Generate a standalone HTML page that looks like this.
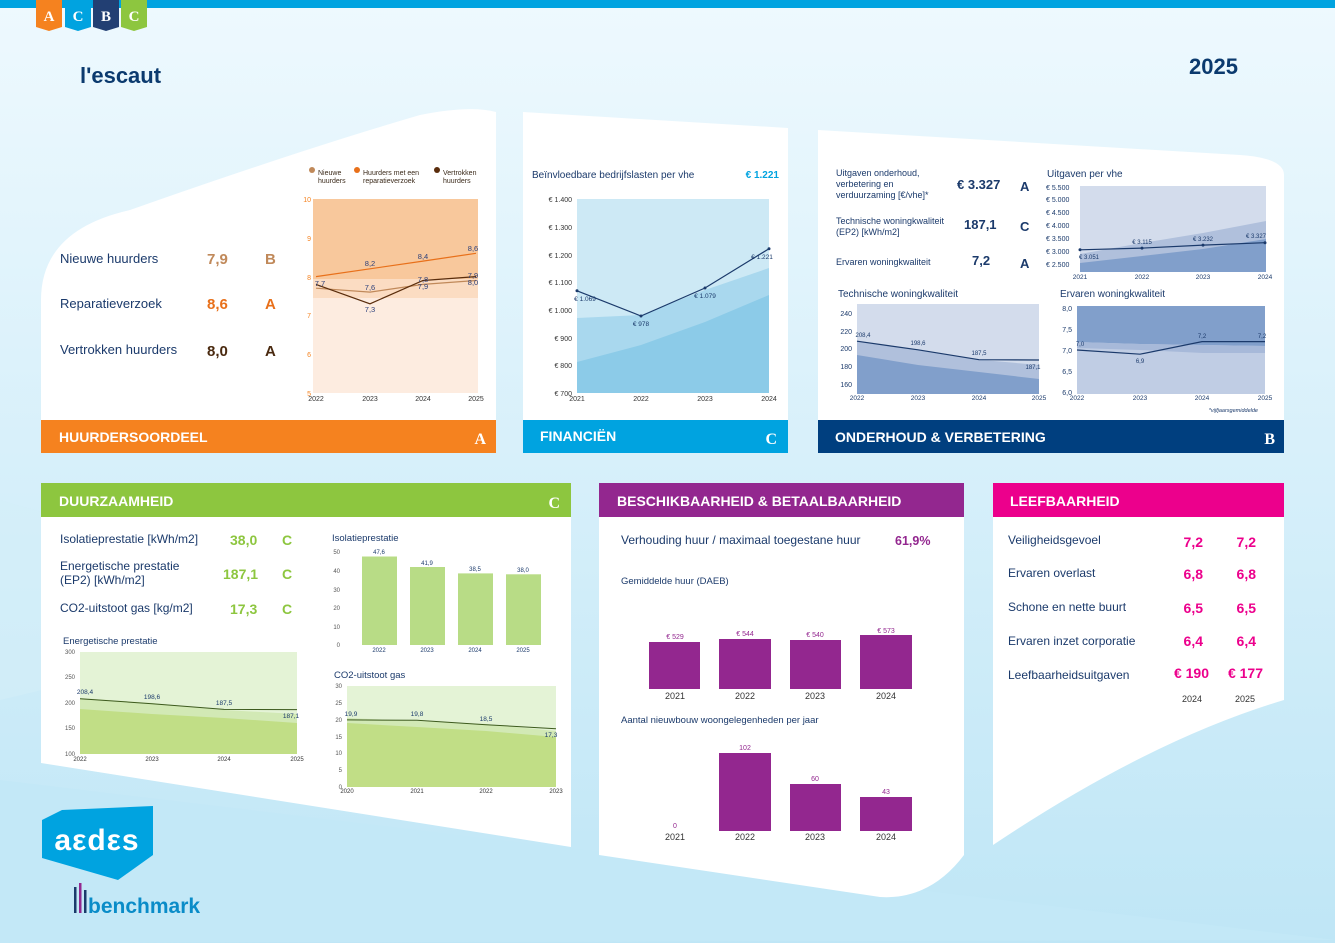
<!DOCTYPE html>
<html><head><meta charset="utf-8"><style>
html,body{margin:0;padding:0;width:1335px;height:943px;overflow:hidden;background:#dff2fb}
svg{display:block;font-family:"Liberation Sans",Verdana,sans-serif}
</style></head><body>
<svg width="1335" height="943" viewBox="0 0 1335 943" xmlns="http://www.w3.org/2000/svg">
<defs>
<linearGradient id="bg" x1="0" y1="0" x2="0" y2="1"><stop offset="0" stop-color="#eef9fe"/><stop offset="1" stop-color="#bfe6f6"/></linearGradient>
</defs>
<rect width="1335" height="943" fill="url(#bg)"/>
<path d="M0 500 Q200 560 420 600 L0 700Z" fill="#d4eef9" opacity=".6"/>
<path d="M0 780 L1335 940 L0 943Z" fill="#c3e8f7"/>
<rect width="1335" height="8" fill="#00a3e0"/>
<!-- ACBC flags -->
<g font-weight="bold" font-size="15" fill="#fff" text-anchor="middle" font-family="Liberation Serif,serif">
<path d="M36 0h26v27l-13 4-13-4z" fill="#f5821f"/><text x="49" y="21">A</text>
<path d="M65 0h26v27l-13 4-13-4z" fill="#00a3e0"/><text x="78" y="21">C</text>
<path d="M93 0h26v27l-13 4-13-4z" fill="#223f73"/><text x="106" y="21">B</text>
<path d="M121 0h26v27l-13 4-13-4z" fill="#8dc63f"/><text x="134" y="21">C</text>
</g>
<text x="80" y="83" font-size="22" font-weight="bold" fill="#0b3a6e">l'escaut</text>
<text x="1238" y="74" font-size="22" font-weight="bold" fill="#0b3a6e" text-anchor="end">2025</text>

<!-- panels -->
<path d="M41 300 Q41 230 130 210 Q300 150 420 115 Q470 105 496 112 L496 453 L41 453Z" fill="#fff"/>
<path d="M523 112 L788 128 L788 453 L523 453Z" fill="#fff"/>
<path d="M818 130 L1240 155 Q1284 158 1284 175 L1284 453 L818 453Z" fill="#fff"/>
<path d="M41 483 L571 483 L571 847 L41 763Z" fill="#fff"/>
<path d="M599 483 L964 483 L964 855 Q930 900 880 897 L599 855Z" fill="#fff"/>
<path d="M993 483 L1284 483 L1284 700 Q1150 740 993 845Z" fill="#fff"/>

<!-- headers -->
<rect x="41" y="420" width="455" height="33" fill="#f5821f"/>
<text x="59" y="442" font-size="14" font-weight="bold" fill="#fff">HUURDERSOORDEEL</text>
<text x="486" y="444" font-size="16" font-weight="bold" fill="#fff" text-anchor="end" font-family="Liberation Serif,serif">A</text>
<rect x="523" y="420" width="265" height="33" fill="#00a3e0"/>
<text x="540" y="441" font-size="14" font-weight="bold" fill="#fff">FINANCIËN</text>
<text x="777" y="444" font-size="16" font-weight="bold" fill="#fff" text-anchor="end" font-family="Liberation Serif,serif">C</text>
<rect x="818" y="420" width="466" height="33" fill="#003f7f"/>
<text x="835" y="442" font-size="14" font-weight="bold" fill="#fff">ONDERHOUD &amp; VERBETERING</text>
<text x="1275" y="444" font-size="16" font-weight="bold" fill="#fff" text-anchor="end" font-family="Liberation Serif,serif">B</text>
<rect x="41" y="483" width="530" height="34" fill="#8dc63f"/>
<text x="59" y="506" font-size="14" font-weight="bold" fill="#fff">DUURZAAMHEID</text>
<text x="560" y="508" font-size="16" font-weight="bold" fill="#fff" text-anchor="end" font-family="Liberation Serif,serif">C</text>
<rect x="599" y="483" width="365" height="34" fill="#93278f"/>
<text x="617" y="506" font-size="14" font-weight="bold" fill="#fff">BESCHIKBAARHEID &amp; BETAALBAARHEID</text>
<rect x="993" y="483" width="291" height="34" fill="#ec008c"/>
<text x="1010" y="506" font-size="14" font-weight="bold" fill="#fff">LEEFBAARHEID</text>

<!-- Huurdersoordeel text -->
<g font-size="13" fill="#1b3a6b">
<text x="60" y="263">Nieuwe huurders</text>
<text x="60" y="308">Reparatieverzoek</text>
<text x="60" y="354">Vertrokken huurders</text>
</g>
<g font-size="15" font-weight="bold">
<text x="207" y="264" fill="#c0895a">7,9</text><text x="265" y="264" fill="#c0895a">B</text>
<text x="207" y="309" fill="#e8701a">8,6</text><text x="265" y="309" fill="#e8701a">A</text>
<text x="207" y="356" fill="#4a2a10">8,0</text><text x="265" y="356" fill="#4a2a10">A</text>
</g>
<!-- Huurders chart -->
<rect x="313" y="199" width="165" height="194" fill="#fdece0"/>
<rect x="313" y="199" width="165" height="80" fill="#f8c89c"/>
<rect x="313" y="279" width="165" height="19" fill="#fbdcc2"/>
<g font-size="7" fill="#f5821f" text-anchor="end"><text x="311" y="202">10</text><text x="311" y="241">9</text><text x="311" y="280">8</text><text x="311" y="318">7</text><text x="311" y="357">6</text><text x="311" y="396">5</text></g>
<g font-size="7" fill="#333" text-anchor="middle"><text x="316" y="401">2022</text><text x="370" y="401">2023</text><text x="423" y="401">2024</text><text x="476" y="401">2025</text></g>
<polyline points="316,276.6 370,268.8 423,261.1 476,253.3" fill="none" stroke="#e8701a" stroke-width="1.2"/>
<polyline points="316,288.2 370,292.1 423,284.4 476,280.5" fill="none" stroke="#c0895a" stroke-width="1.2"/>
<polyline points="316,284.4 370,303.8 423,280.5 476,276.6" fill="none" stroke="#5a2d0c" stroke-width="1.2"/>
<g font-size="7.5" fill="#2b3f7a" text-anchor="middle">
<text x="370" y="266">8,2</text><text x="423" y="259">8,4</text><text x="473" y="251">8,6</text>
<text x="320" y="286">7,7</text><text x="370" y="290">7,6</text><text x="370" y="312">7,3</text>
<text x="423" y="282">7,8</text><text x="423" y="289">7,9</text><text x="473" y="278">7,9</text><text x="473" y="285">8,0</text>
</g>
<g font-size="7" fill="#3b2a1a">
<circle cx="312" cy="170" r="3" fill="#c0895a"/><text x="318" y="175">Nieuwe</text><text x="318" y="183">huurders</text>
<circle cx="357" cy="170" r="3" fill="#e8701a"/><text x="363" y="175">Huurders met een</text><text x="363" y="183">reparatieverzoek</text>
<circle cx="437" cy="170" r="3" fill="#5a2d0c"/><text x="443" y="175">Vertrokken</text><text x="443" y="183">huurders</text>
</g>

<!-- Financien -->
<text x="532" y="178" font-size="10" fill="#1b3a6b">Beïnvloedbare bedrijfslasten per vhe</text>
<text x="779" y="178" font-size="10" font-weight="bold" fill="#00a3e0" text-anchor="end">€ 1.221</text>
<rect x="577" y="199" width="192" height="194" fill="#cde9f5"/>
<path d="M577 318 L641 315 L705 290 L769 268 L769 393 L577 393Z" fill="#a9d8ee"/>
<path d="M577 362 L641 345 L705 322 L769 295 L769 393 L577 393Z" fill="#8ccbe8"/>
<g font-size="7" fill="#333" text-anchor="end"><text x="572" y="202">€ 1.400</text><text x="572" y="230">€ 1.300</text><text x="572" y="258">€ 1.200</text><text x="572" y="285">€ 1.100</text><text x="572" y="313">€ 1.000</text><text x="572" y="341">€ 900</text><text x="572" y="368">€ 800</text><text x="572" y="396">€ 700</text></g>
<g font-size="7" fill="#333" text-anchor="middle"><text x="577" y="401">2021</text><text x="641" y="401">2022</text><text x="705" y="401">2023</text><text x="769" y="401">2024</text></g>
<polyline points="577,290.8 641,316 705,288 769,248.7" fill="none" stroke="#1b3a6b" stroke-width="1.2"/>
<g fill="#1b3a6b"><circle cx="577" cy="290.8" r="1.5"/><circle cx="641" cy="316" r="1.5"/><circle cx="705" cy="288" r="1.5"/><circle cx="769" cy="248.7" r="1.5"/></g>
<g font-size="6.5" fill="#1b3a6b" text-anchor="middle"><text x="585" y="301">€ 1.069</text><text x="641" y="326">€ 978</text><text x="705" y="298">€ 1.079</text><text x="762" y="259">€ 1.221</text></g>

<!-- Onderhoud text -->
<g font-size="9" fill="#1b3a6b">
<text x="836" y="176">Uitgaven onderhoud,</text><text x="836" y="187">verbetering en</text><text x="836" y="198">verduurzaming [€/vhe]*</text>
<text x="836" y="224">Technische woningkwaliteit</text><text x="836" y="235">(EP2) [kWh/m2]</text>
<text x="836" y="265">Ervaren woningkwaliteit</text>
</g>
<g font-size="13" font-weight="bold" fill="#1b3a6b">
<text x="957" y="189">€ 3.327</text><text x="1020" y="191">A</text>
<text x="964" y="229">187,1</text><text x="1020" y="231">C</text>
<text x="972" y="265">7,2</text><text x="1020" y="268">A</text>
</g>
<text x="1047" y="177" font-size="10" fill="#1b3a6b">Uitgaven per vhe</text>
<rect x="1080" y="186" width="186" height="86" fill="#d3dcec"/>
<path d="M1080 254 L1142 243 L1203 233 L1266 221 L1266 272 L1080 272Z" fill="#b0c0dc"/>
<path d="M1080 263 L1142 256 L1203 249 L1266 239 L1266 272 L1080 272Z" fill="#819fcb"/>
<g font-size="7" fill="#1b3a6b"><text x="1046" y="190">€ 5.500</text><text x="1046" y="202">€ 5.000</text><text x="1046" y="215">€ 4.500</text><text x="1046" y="228">€ 4.000</text><text x="1046" y="241">€ 3.500</text><text x="1046" y="254">€ 3.000</text><text x="1046" y="267">€ 2.500</text></g>
<g font-size="6.5" fill="#1b3a6b" text-anchor="middle"><text x="1080" y="279">2021</text><text x="1142" y="279">2022</text><text x="1203" y="279">2023</text><text x="1265" y="279">2024</text></g>
<polyline points="1080,249.8 1142,248.1 1203,245.1 1265,242.7" fill="none" stroke="#1b3a6b" stroke-width="1.2"/>
<g fill="#1b3a6b"><circle cx="1080" cy="249.8" r="1.5"/><circle cx="1142" cy="248.1" r="1.5"/><circle cx="1203" cy="245.1" r="1.5"/><circle cx="1265" cy="242.7" r="1.5"/></g>
<g font-size="6" fill="#1b3a6b" text-anchor="middle"><text x="1089" y="259">€ 3.051</text><text x="1142" y="244">€ 3.115</text><text x="1203" y="241">€ 3.232</text><text x="1256" y="238">€ 3.327</text></g>

<text x="838" y="297" font-size="10" fill="#1b3a6b">Technische woningkwaliteit</text>
<rect x="857" y="304" width="182" height="90" fill="#d3dcec"/>
<path d="M857 341 L918 349.8 L979 359.7 L1039 365 L1039 394 L857 394Z" fill="#b0c0dc"/>
<path d="M857 355 L918 365 L979 372 L1039 379 L1039 394 L857 394Z" fill="#819fcb"/>
<g font-size="7" fill="#1b3a6b" text-anchor="end"><text x="852" y="316">240</text><text x="852" y="334">220</text><text x="852" y="351">200</text><text x="852" y="369">180</text><text x="852" y="387">160</text></g>
<g font-size="6.5" fill="#1b3a6b" text-anchor="middle"><text x="857" y="400">2022</text><text x="918" y="400">2023</text><text x="979" y="400">2024</text><text x="1039" y="400">2025</text></g>
<polyline points="857,341.2 918,349.8 979,359.7 1039,360" fill="none" stroke="#1b3a6b" stroke-width="1.2"/>
<g font-size="6" fill="#1b3a6b" text-anchor="middle"><text x="863" y="337">208,4</text><text x="918" y="345">198,6</text><text x="979" y="355">187,5</text><text x="1033" y="369">187,1</text></g>

<text x="1060" y="297" font-size="10" fill="#1b3a6b">Ervaren woningkwaliteit</text>
<rect x="1077" y="306" width="188" height="88" fill="#c0cde4"/>
<path d="M1077 306 H1265 V346 L1203 345 L1140 344 L1077 342Z" fill="#819fcb"/>
<path d="M1077 342 L1140 344 L1203 345 L1265 346 V353 L1203 353 L1140 350 L1077 348Z" fill="#a7b9d9"/>
<g font-size="7" fill="#1b3a6b" text-anchor="end"><text x="1072" y="311">8,0</text><text x="1072" y="332">7,5</text><text x="1072" y="353">7,0</text><text x="1072" y="374">6,5</text><text x="1072" y="395">6,0</text></g>
<g font-size="6.5" fill="#1b3a6b" text-anchor="middle"><text x="1077" y="400">2022</text><text x="1140" y="400">2023</text><text x="1202" y="400">2024</text><text x="1265" y="400">2025</text></g>
<polyline points="1077,350 1140,354.2 1202,341.6 1265,341.6" fill="none" stroke="#1b3a6b" stroke-width="1.2"/>
<g font-size="6" fill="#1b3a6b" text-anchor="middle"><text x="1080" y="346">7,0</text><text x="1140" y="363">6,9</text><text x="1202" y="338">7,2</text><text x="1262" y="338">7,2</text></g>
<text x="1258" y="412" font-size="5.5" font-style="italic" fill="#1b3a6b" text-anchor="end">*vijfjaarsgemiddelde</text>

<!-- Duurzaamheid -->
<g font-size="12" fill="#1b3a6b">
<text x="60" y="543">Isolatieprestatie [kWh/m2]</text>
<text x="60" y="570">Energetische prestatie</text><text x="60" y="584">(EP2) [kWh/m2]</text>
<text x="60" y="612">CO2-uitstoot gas [kg/m2]</text>
</g>
<g font-size="14" font-weight="bold" fill="#8dc63f">
<text x="230" y="545">38,0</text><text x="282" y="545">C</text>
<text x="223" y="579">187,1</text><text x="282" y="579">C</text>
<text x="230" y="614">17,3</text><text x="282" y="614">C</text>
</g>
<text x="332" y="541" font-size="9.5" fill="#1b3a6b">Isolatieprestatie</text>
<g font-size="6" fill="#555" text-anchor="end"><text x="340" y="554">50</text><text x="340" y="573">40</text><text x="340" y="592">30</text><text x="340" y="610">20</text><text x="340" y="629">10</text><text x="340" y="647">0</text></g>
<g fill="#b8dc86"><rect x="362" y="556.5" width="35" height="88.5"/><rect x="410" y="567" width="35" height="78"/><rect x="458" y="573.4" width="35" height="71.6"/><rect x="506" y="574.3" width="35" height="70.7"/></g>
<g font-size="6" fill="#1b3a6b" text-anchor="middle"><text x="379" y="554">47,6</text><text x="427" y="565">41,9</text><text x="475" y="571">38,5</text><text x="523" y="572">38,0</text>
<text x="379" y="652">2022</text><text x="427" y="652">2023</text><text x="475" y="652">2024</text><text x="523" y="652">2025</text></g>

<text x="63" y="644" font-size="9.5" fill="#1b3a6b">Energetische prestatie</text>
<rect x="80" y="652" width="217" height="102" fill="#e4f3d6"/>
<path d="M80 698 L152 703 L224 710 L297 714 L297 754 L80 754Z" fill="#d2e9b5"/>
<path d="M80 709 L152 714 L224 718 L297 723 L297 754 L80 754Z" fill="#c1de86"/>
<g font-size="6" fill="#555" text-anchor="end"><text x="75" y="654">300</text><text x="75" y="679">250</text><text x="75" y="705">200</text><text x="75" y="730">150</text><text x="75" y="756">100</text></g>
<g font-size="6" fill="#333" text-anchor="middle"><text x="80" y="761">2022</text><text x="152" y="761">2023</text><text x="224" y="761">2024</text><text x="297" y="761">2025</text></g>
<polyline points="80,698.7 152,703.7 224,709.4 297,709.6" fill="none" stroke="#3d5a1e" stroke-width="1"/>
<g font-size="6.5" fill="#1b3a6b" text-anchor="middle"><text x="85" y="694">208,4</text><text x="152" y="699">198,6</text><text x="224" y="705">187,5</text><text x="291" y="718">187,1</text></g>

<text x="334" y="678" font-size="9.5" fill="#1b3a6b">CO2-uitstoot gas</text>
<rect x="347" y="686" width="209" height="101" fill="#e4f3d6"/>
<path d="M347 718 L417 721 L486 724 L556 731 L556 787 L347 787Z" fill="#d2e9b5"/>
<path d="M347 723 L417 727 L486 731 L556 737 L556 787 L347 787Z" fill="#c1de86"/>
<g font-size="6" fill="#555" text-anchor="end"><text x="342" y="688">30</text><text x="342" y="705">25</text><text x="342" y="722">20</text><text x="342" y="739">15</text><text x="342" y="755">10</text><text x="342" y="772">5</text><text x="342" y="789">0</text></g>
<g font-size="6" fill="#333" text-anchor="middle"><text x="347" y="793">2020</text><text x="417" y="793">2021</text><text x="486" y="793">2022</text><text x="556" y="793">2023</text></g>
<polyline points="347,719.9 417,720.3 486,724.7 556,728.7" fill="none" stroke="#3d5a1e" stroke-width="1"/>
<g font-size="6.5" fill="#1b3a6b" text-anchor="middle"><text x="351" y="716">19,9</text><text x="417" y="716">19,8</text><text x="486" y="721">18,5</text><text x="551" y="737">17,3</text></g>

<!-- Beschikbaarheid -->
<text x="621" y="544" font-size="12" fill="#1b3a6b">Verhouding huur / maximaal toegestane huur</text>
<text x="895" y="545" font-size="12.5" font-weight="bold" fill="#93278f">61,9%</text>
<text x="621" y="584" font-size="9.5" fill="#1b3a6b">Gemiddelde huur (DAEB)</text>
<g fill="#93278f"><rect x="649" y="642" width="51" height="47"/><rect x="719" y="639" width="52" height="50"/><rect x="790" y="640" width="51" height="49"/><rect x="860" y="635" width="52" height="54"/></g>
<g font-size="7" fill="#93278f" text-anchor="middle"><text x="675" y="639">€ 529</text><text x="745" y="636">€ 544</text><text x="815" y="637">€ 540</text><text x="886" y="633">€ 573</text></g>
<g font-size="9" fill="#333" text-anchor="middle"><text x="675" y="699">2021</text><text x="745" y="699">2022</text><text x="815" y="699">2023</text><text x="886" y="699">2024</text></g>
<text x="621" y="723" font-size="9.5" fill="#1b3a6b">Aantal nieuwbouw woongelegenheden per jaar</text>
<g fill="#93278f"><rect x="719" y="753" width="52" height="78"/><rect x="790" y="784" width="51" height="47"/><rect x="860" y="797" width="52" height="34"/></g>
<g font-size="7" fill="#93278f" text-anchor="middle"><text x="675" y="828">0</text><text x="745" y="750">102</text><text x="815" y="781">60</text><text x="886" y="794">43</text></g>
<g font-size="9" fill="#333" text-anchor="middle"><text x="675" y="840">2021</text><text x="745" y="840">2022</text><text x="815" y="840">2023</text><text x="886" y="840">2024</text></g>

<!-- Leefbaarheid -->
<g font-size="12" fill="#1b3a6b">
<text x="1008" y="544">Veiligheidsgevoel</text>
<text x="1008" y="577">Ervaren overlast</text>
<text x="1008" y="611">Schone en nette buurt</text>
<text x="1008" y="645">Ervaren inzet corporatie</text>
<text x="1008" y="679">Leefbaarheidsuitgaven</text>
</g>
<g font-size="14" font-weight="bold" fill="#ec008c" text-anchor="end">
<text x="1203" y="547">7,2</text><text x="1256" y="547">7,2</text>
<text x="1203" y="579">6,8</text><text x="1256" y="579">6,8</text>
<text x="1203" y="613">6,5</text><text x="1256" y="613">6,5</text>
<text x="1203" y="646">6,4</text><text x="1256" y="646">6,4</text>
<text x="1209" y="678">€ 190</text><text x="1263" y="678">€ 177</text>
</g>
<g font-size="9" fill="#333" text-anchor="middle"><text x="1192" y="702">2024</text><text x="1245" y="702">2025</text></g>

<!-- logo -->
<path d="M42 820 L62 810 L153 806 L153 855 L118 880 L42 858Z" fill="#00a3e0"/>
<text x="97" y="850" font-size="30" font-weight="bold" fill="#fff" text-anchor="middle" letter-spacing="1">aεdεs</text>
<rect x="74" y="887" width="2.5" height="26" fill="#1b3a6b"/><rect x="79" y="883" width="2.5" height="30" fill="#93278f"/><rect x="84" y="890" width="2.5" height="23" fill="#1b3a6b"/>
<text x="88" y="913" font-size="21" font-weight="bold" fill="#0a8cc8">benchmark</text>
</svg>
</body></html>
